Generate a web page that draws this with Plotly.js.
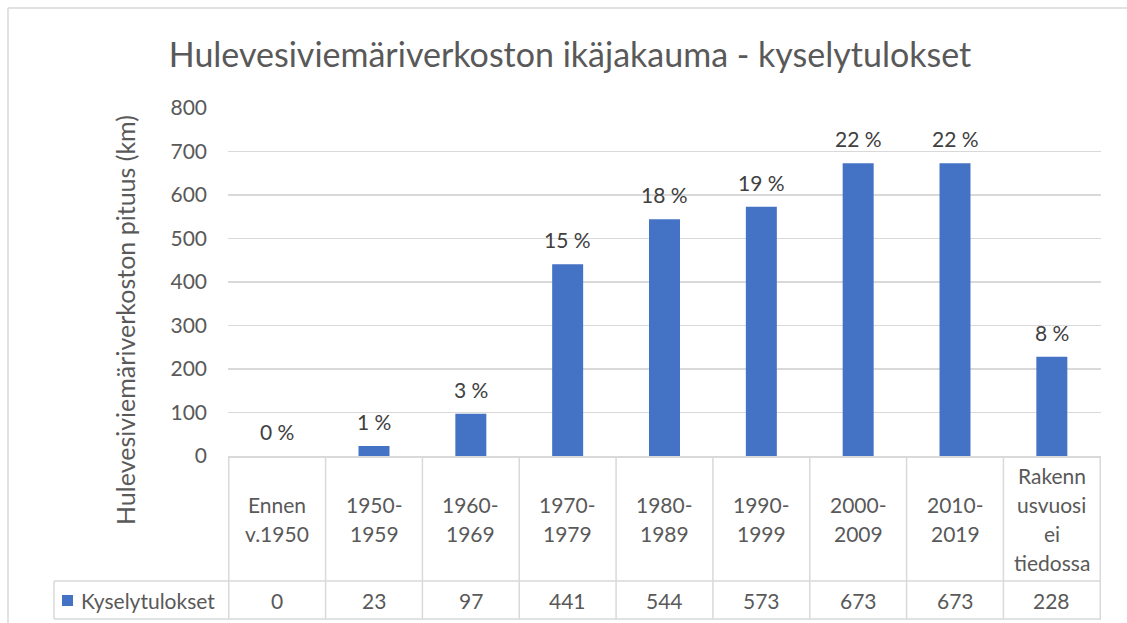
<!DOCTYPE html>
<html>
<head>
<meta charset="utf-8">
<script src="https://cdn.plot.ly/plotly-3.0.1.min.js"></script>
<style>
  html, body { margin: 0; padding: 0; background: #ffffff; }
  #chart { width: 1127px; height: 623px; }
</style>
</head>
<body>
<div id="chart"></div>
<script>
// ---- Data ----
const categories = ["Ennen<br>v.1950", "1950-<br>1959", "1960-<br>1969", "1970-<br>1979", "1980-<br>1989",
                    "1990-<br>1999", "2000-<br>2009", "2010-<br>2019", "Rakenn<br>usvuosi<br>ei<br>tiedossa"];
const values = [0, 23, 97, 441, 544, 573, 673, 673, 228];
const percentLabels = ["0 %", "1 %", "3 %", "15 %", "18 %", "19 %", "22 %", "22 %", "8 %"];
const seriesName = "Kyselytulokset";
const chartTitle = "Hulevesiviemäriverkoston ikäjakauma - kyselytulokset";
const yTitle = "Hulevesiviemäriverkoston pituus (km)";
const yTicks = [0, 100, 200, 300, 400, 500, 600, 700, 800];

// ---- Geometry helpers (pixels -> paper) ----
const W = 1127, H = 623;
const M = {l: 228, r: 26, t: 108, b: 167};
const PW = W - M.l - M.r, PH = H - M.t - M.b;
const px = x => (x - M.l) / PW;
const py = y => (H - M.b - y) / PH;

const FONT = "Lato, 'Open Sans', sans-serif";
const GRID = "#D9D9D9";
const TXT = "#595959";
const BLUE = "#4472C4";
const FS = 21;

const shapes = [];
const annotations = [];

// frame (outer chart border)
shapes.push({type: "line", xref: "paper", yref: "paper", x0: px(8), x1: px(1140), y0: py(8), y1: py(8), line: {color: GRID, width: 1.5}});
shapes.push({type: "line", xref: "paper", yref: "paper", x0: px(8), x1: px(8), y0: py(8), y1: py(640), line: {color: GRID, width: 1.5}});

// data table lines
const rowTop = 456, rowMid = 581, rowBot = 619, legLeft = 54;
for (let k = 0; k <= categories.length; k++) {
  shapes.push({type: "line", xref: "x", yref: "paper", x0: k - 0.5, x1: k - 0.5, y0: py(rowTop), y1: py(rowBot), line: {color: GRID, width: 1.5}});
}
shapes.push({type: "line", xref: "paper", yref: "paper", x0: px(legLeft), x1: 1, y0: py(rowMid), y1: py(rowMid), line: {color: GRID, width: 1.5}});
shapes.push({type: "line", xref: "paper", yref: "paper", x0: px(legLeft), x1: 1, y0: py(rowBot), y1: py(rowBot), line: {color: GRID, width: 1.5}});
shapes.push({type: "line", xref: "paper", yref: "paper", x0: px(legLeft), x1: px(legLeft), y0: py(rowMid), y1: py(rowBot), line: {color: GRID, width: 1.5}});

// legend key
shapes.push({type: "rect", xref: "paper", yref: "paper", x0: px(62), x1: px(73), y0: py(606), y1: py(595), fillcolor: BLUE, line: {width: 0}});
annotations.push({xref: "paper", yref: "paper", x: px(79), y: py(600), xanchor: "left", yanchor: "middle",
  text: seriesName, showarrow: false, font: {family: FONT, size: FS, color: TXT}});

// header (category) labels, value cells and data labels
const lineGap = 29;
categories.forEach((c, i) => {
  const lines = c.split("<br>");
  const n = lines.length;
  lines.forEach((ln, j) => {
    annotations.push({xref: "x", yref: "paper", x: c, y: py(518.5), xanchor: "center", yanchor: "middle",
      yshift: -(j - (n - 1) / 2) * lineGap, text: ln, showarrow: false,
      font: {family: FONT, size: FS, color: TXT}});
  });
  annotations.push({xref: "x", yref: "paper", x: c, y: py(600), xanchor: "center", yanchor: "middle",
    text: String(values[i]), showarrow: false, font: {family: FONT, size: FS, color: TXT}});
  annotations.push({xref: "x", yref: "y", x: c, y: values[i], xanchor: "center", yanchor: "bottom",
    yshift: 10, text: percentLabels[i], showarrow: false, font: {family: FONT, size: FS, color: "#404040"}});
});

// y-axis title
annotations.push({xref: "paper", yref: "paper", x: px(125), y: py(320), xanchor: "center", yanchor: "middle",
  textangle: -90, text: yTitle, showarrow: false, font: {family: FONT, size: 25, color: TXT}});

const trace = {
  type: "bar",
  x: categories,
  y: values,
  name: seriesName,
  marker: {color: BLUE},
  cliponaxis: false,
  hoverinfo: "x+y"
};

const layout = {
  width: W, height: H,
  margin: M,
  paper_bgcolor: "#ffffff",
  plot_bgcolor: "#ffffff",
  showlegend: false,
  bargap: 0.68,
  title: {text: chartTitle, x: 570 / W, xref: "container", xanchor: "center", y: 1 - 55 / H, yref: "container", yanchor: "middle",
          font: {family: FONT, size: 34, color: TXT}},
  xaxis: {type: "category", showticklabels: false, ticks: "", showgrid: false, zeroline: false,
          showline: true, linecolor: GRID, linewidth: 1.5, fixedrange: true},
  yaxis: {range: [0, 800], tickvals: yTicks, ticktext: yTicks.map(String), showgrid: true, gridcolor: GRID, gridwidth: 1.5,
          zeroline: false, showline: false, ticks: "", ticklabelstandoff: 20,
          tickfont: {family: FONT, size: FS, color: TXT}, fixedrange: true},
  shapes: shapes,
  annotations: annotations
};

Plotly.newPlot("chart", [trace], layout, {displayModeBar: false, staticPlot: true});
</script>
</body>
</html>
